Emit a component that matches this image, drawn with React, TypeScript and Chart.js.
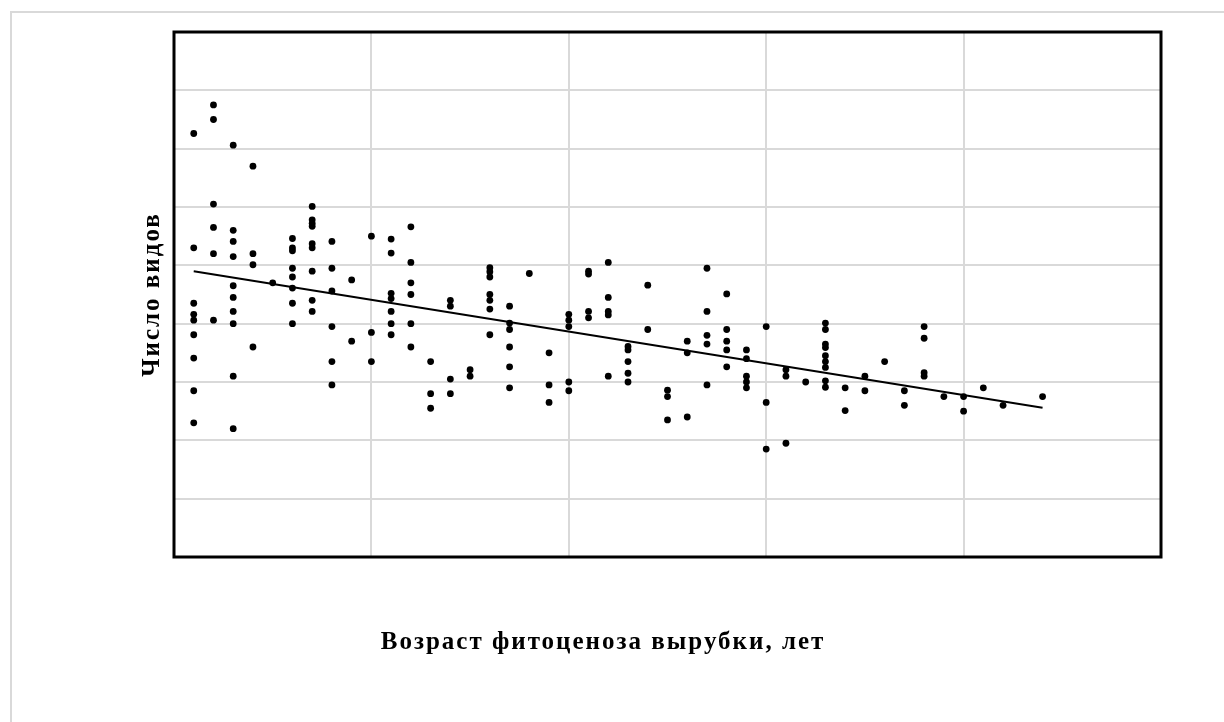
import React, { useEffect, useRef } from "react";
import { Chart, registerables } from "chart.js";

Chart.register(...registerables);

const xTitle = "Возраст фитоценоза вырубки, лет";
const yTitle = "Число видов";

const xTicks = [0, 10, 20, 30, 40, 50];
const yTicks = [0, 10, 20, 30, 40, 50, 60, 70, 80, 90];

const ages = [
  1, 2, 3, 4, 5, 6, 7, 8, 9, 10, 11, 12, 13, 14, 15, 16, 17, 18, 19, 20, 21, 22,
  23, 24, 25, 26, 27, 28, 29, 30, 31, 32, 33, 34, 35, 36, 37, 38, 39, 40, 41, 42, 44,
];

const speciesByAge = [
  [72.6, 53.0, 43.5, 41.6, 40.6, 38.1, 34.1, 28.5, 23.0],
  [77.5, 75.0, 60.5, 56.5, 52.0, 40.6],
  [70.6, 56.0, 54.1, 51.5, 46.5, 44.5, 42.1, 40.0, 31.0, 22.0],
  [67.0, 52.0, 50.1, 36.0],
  [47.0],
  [54.6, 53.0, 52.5, 49.5, 48.0, 46.1, 43.5, 40.0],
  [60.1, 57.8, 57.2, 56.7, 53.7, 53.0, 49.0, 44.0, 42.1],
  [54.1, 49.5, 45.6, 39.5, 33.5, 29.5],
  [47.5, 37.0],
  [55.0, 38.5, 33.5],
  [54.5, 52.1, 45.2, 44.3, 42.1, 40.0, 38.1],
  [56.6, 50.5, 47.0, 45.0, 40.0, 36.0],
  [33.5, 28.0, 25.5],
  [44.0, 43.0, 30.5, 28.0],
  [32.1, 31.0],
  [49.6, 48.9, 48.0, 45.0, 44.0, 42.5, 38.1],
  [43.0, 40.1, 39.0, 36.0, 32.6, 29.0],
  [48.6],
  [35.0, 29.5, 26.5],
  [41.6, 40.6, 39.5, 30.0, 28.5],
  [49.0, 48.5, 42.1, 41.0],
  [50.5, 44.5, 42.1, 41.5, 31.0],
  [36.1, 35.5, 33.5, 31.5, 30.0],
  [46.6, 39.0],
  [28.6, 27.5, 23.5],
  [37.0, 35.0, 24.0],
  [49.5, 42.1, 38.0, 36.5, 29.5],
  [45.1, 39.0, 37.0, 35.5, 32.6],
  [35.5, 34.0, 31.0, 30.0, 29.0],
  [39.5, 26.5, 18.5],
  [32.1, 31.0, 19.5],
  [30.0],
  [40.1, 39.0, 36.5, 35.9, 34.5, 33.5, 32.5, 30.2, 29.1],
  [29.0, 25.1],
  [31.0, 28.5],
  [33.5],
  [28.5, 26.0],
  [39.5, 37.5, 31.6, 31.0],
  [27.5],
  [27.5, 25.0],
  [29.0],
  [26.0],
  [27.5],
];

const trendAges = [1, 44];
const trendSpecies = [49.0, 25.6];

const FONT = "'Liberation Serif', 'Times New Roman', serif";

const spacingPlugin = {
  id: "titleSpacing",
  beforeDraw(chart: any) {
    (chart.ctx as any).letterSpacing = "2px";
  },
  afterDraw(chart: any) {
    (chart.ctx as any).letterSpacing = "0px";
  },
};

const framePlugin = {
  id: "plotFrame",
  afterDraw(chart: any) {
    const { ctx, chartArea: a } = chart;
    ctx.save();
    ctx.strokeStyle = "#000";
    ctx.lineWidth = 3;
    ctx.strokeRect(a.left, a.top, a.right - a.left, a.bottom - a.top);
    ctx.restore();
  },
};

export default function App() {
  const ref = useRef<HTMLCanvasElement | null>(null);

  useEffect(() => {
    if (!ref.current) return;
    const points: { x: number; y: number }[] = [];
    ages.forEach((a, i) => {
      speciesByAge[i].forEach((v) => points.push({ x: a, y: v }));
    });
    const trend = trendAges.map((a, i) => ({ x: a, y: trendSpecies[i] }));

    const chart = new Chart(ref.current, {
      type: "scatter",
      data: {
        datasets: [
          {
            label: "Число видов",
            data: points,
            pointRadius: 3.4,
            pointHoverRadius: 3.4,
            backgroundColor: "#000",
            borderWidth: 0,
          },
          {
            label: "Тренд",
            data: trend,
            showLine: true,
            pointRadius: 0,
            borderColor: "#000",
            borderWidth: 2,
          } as any,
        ],
      },
      options: {
        animation: false,
        responsive: false,
        events: [],
        layout: { padding: { left: 45, right: 63, top: 32, bottom: 64 } },
        plugins: {
          legend: { display: false },
          tooltip: { enabled: false },
          title: {
            display: true,
            position: "bottom",
            text: xTitle,
            color: "#000",
            font: { family: FONT, size: 25, weight: "bold", lineHeight: 1.2 },
            padding: { top: 61, bottom: 0 },
          },
        },
        scales: {
          x: {
            type: "linear",
            min: 0,
            max: 50,
            afterBuildTicks: (s: any) => {
              s.ticks = xTicks.map((v) => ({ value: v }));
            },
            afterFit: (s: any) => {
              s.height = 10;
            },
            ticks: { display: false },
            grid: { color: "#d9d9d9", lineWidth: 2, drawTicks: false },
            border: { display: false },
          },
          y: {
            type: "linear",
            min: 0,
            max: 90,
            afterBuildTicks: (s: any) => {
              s.ticks = yTicks.map((v) => ({ value: v }));
            },
            afterFit: (s: any) => {
              s.width = 129;
            },
            ticks: { display: false },
            grid: { color: "#d9d9d9", lineWidth: 2, drawTicks: false },
            border: { display: false },
            title: {
              display: true,
              text: yTitle,
              color: "#000",
              font: { family: FONT, size: 25, weight: "bold", lineHeight: 1.2 },
              padding: { top: 93, bottom: 0 },
            },
          },
        },
      },
      plugins: [spacingPlugin, framePlugin],
    } as any);
    return () => chart.destroy();
  }, []);

  return (
    <div
      style={{
        position: "fixed",
        left: 0,
        top: 0,
        width: 1224,
        height: 722,
        overflow: "hidden",
        background: "#fff",
      }}
    >
      <div
        style={{
          position: "absolute",
          left: 10,
          top: 11,
          width: 1400,
          height: 900,
          borderLeft: "2px solid #d9d9d9",
          borderTop: "2px solid #d9d9d9",
        }}
      />
      <canvas
        ref={ref}
        width={1224}
        height={722}
        style={{ position: "absolute", left: 0, top: 0, width: 1224, height: 722 }}
      />
    </div>
  );
}
